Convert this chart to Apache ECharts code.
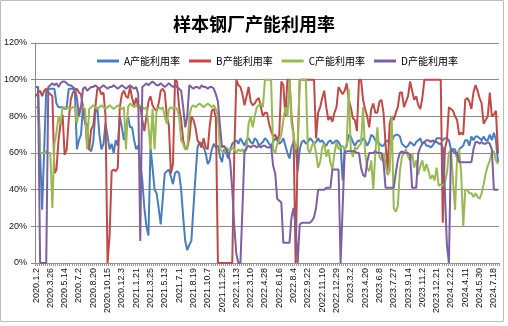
<!DOCTYPE html>
<html><head><meta charset="utf-8">
<script src="https://cdn.jsdelivr.net/npm/echarts@6/dist/echarts.min.js"></script>
<style>html,body{margin:0;padding:0;background:#fff}#c{width:508px;height:326px}</style>
</head><body><div id="c"></div><script>
const title = '样本钢厂产能利用率';
const seriesNames = ['A产能利用率','B产能利用率','C产能利用率','D产能利用率'];
const tickLabels = ['2020.1.2','2020.3.26','2020.5.14','2020.7.2','2020.8.20','2020.10.15','2020.12.3','2021.1.21','2021.3.25','2021.5.13','2021.7.1','2021.8.19','2021.10.7','2021.11.25','2022.1.13','2022.3.10','2022.4.28','2022.6.16','2022.8.4','2022.9.22','2022.11.10','2022.12.29','2023.3.2','2023.4.20','2023.6.8','2023.7.27','2023.9.14','2023.11.2','2023.12.21','2024.2.22','2024.4.11','2024.5.30','2024.7.18'];
const yTicks = [0,20,40,60,80,100,120];

const seriesA = [
96,96,60,29,62,94,95,95,95,95,
87,85,85,85,84,85,95,95,95,94,
62,67,70,85,76,76,62,61,66,82,
85,70,62,65,76,69,62,65,60,67,
64,80,74,67,74,80,74,74,67,62,
64,55,45,30,20,15,63,52,40,38,
30,21,35,49,50,51,47,43,49,50,
49,40,25,12,7,10,12,30,47,63,
66,65,63,60,54,56,62,65,63,64,
58,55,62,60,57,62,65,66,67,65,
68,66,64,67,68,66,65,68,67,64,
65,66,68,67,65,64,66,68,67,65,
66,68,64,60,57,63,66,64,50,62,
66,67,65,66,68,67,65,66,68,66,
67,65,64,66,67,65,66,67,66,64,
45,62,64,70,69,66,64,66,67,66,
68,67,64,66,70,69,67,66,65,64,
64,66,67,65,66,69,70,70,69,65,
64,63,64,66,65,64,66,67,68,65,
66,64,64,63,64,66,68,68,68,67,
68,68,67,62,62,62,57,62,63,64,
67,67,64,69,67,69,69,68,67,69,
67,67,70,67,71,67,55];

const seriesB = [
91,93,94,91,94,95,93,92,91,49,
51,67,76,81,59,62,78,89,93,94,
95,93,92,85,80,64,62,73,75,85,
95,95,92,93,80,0,15,50,51,50,
52,85,92,94,91,90,96,90,86,90,
85,85,78,72,80,88,91,86,84,83,
87,94,95,93,80,75,49,54,100,99,
85,78,67,62,63,68,80,78,74,67,
65,63,68,63,62,75,83,84,79,0,
0,0,0,0,0,0,0,60,100,97,
96,92,86,91,96,88,86,87,89,90,
85,80,82,82,76,72,69,70,67,70,
99,97,80,100,100,80,70,0,62,100,
100,100,100,100,100,100,100,68,82,85,
90,94,85,78,80,77,82,85,96,94,
92,94,98,89,85,79,78,72,100,100,
89,84,80,74,84,87,82,82,88,89,
82,65,50,76,80,78,82,85,93,93,
85,88,91,99,94,89,91,86,84,90,
100,100,100,100,100,100,100,100,100,22,
62,67,85,84,83,80,78,70,71,70,
89,90,88,84,93,97,94,90,87,76,
78,80,93,80,81,83,60];

const seriesC = [
85,85,60,60,60,61,60,60,30,65,
71,80,76,85,85,84,85,84,85,85,
76,84,85,85,84,62,84,85,86,85,
84,85,86,85,84,85,86,85,84,85,
86,85,84,85,62,85,87,86,85,86,
85,86,85,84,85,75,62,84,62,84,
85,84,85,80,76,84,85,84,85,84,
80,67,65,62,62,80,85,86,85,86,
87,86,85,86,87,86,85,86,84,80,
62,61,60,63,62,61,63,62,60,62,
61,62,60,62,76,80,74,80,85,86,
87,85,100,100,100,100,62,60,65,67,
70,78,85,80,100,76,70,62,65,100,
100,100,100,62,60,64,66,60,52,55,
63,65,58,62,55,51,60,66,62,63,
64,62,65,95,62,58,63,62,64,65,
85,60,52,50,56,40,60,74,58,56,
60,54,48,50,80,30,28,31,50,58,
60,62,58,56,60,52,56,48,53,56,
50,54,50,46,48,45,52,42,43,42,
44,49,60,62,45,29,58,62,49,20,
40,40,38,38,36,38,36,35,38,43,
49,53,56,60,61,56,54];

const seriesD = [
96,96,0,0,0,0,96,97,98,97,
98,96,98,99,99,98,97,97,96,95,
90,80,85,95,96,94,95,96,96,97,
96,95,96,97,96,95,96,96,97,96,
95,96,97,96,95,96,97,96,95,96,
92,12,96,97,98,97,98,99,98,97,
97,98,97,96,97,98,97,96,97,96,
95,94,85,74,80,97,96,95,96,96,
95,97,96,96,95,96,96,95,92,88,
75,63,64,62,60,55,40,20,5,0,
0,30,61,63,64,63,64,64,63,64,
63,64,64,63,63,64,53,49,35,34,
33,11,11,11,11,25,30,20,0,21,
22,22,22,22,22,23,25,30,40,40,
40,40,41,41,41,51,51,51,51,0,
30,60,61,61,61,61,61,60,60,52,
48,47,55,60,60,60,61,60,60,60,
55,41,41,41,41,41,49,56,60,61,
60,60,60,59,41,41,41,60,63,65,
66,67,67,66,67,66,66,65,65,63,
40,10,0,62,61,60,60,55,55,55,
55,55,55,55,62,66,66,65,66,65,
65,66,65,62,40,40,40];

const colors = ['#4A7EBB','#BE4B48','#98B954','#7D60A0'];

// weekly category names: each tick label followed by the weeks until the next labelled one
function fmt(d){return d.getUTCFullYear()+'.'+(d.getUTCMonth()+1)+'.'+d.getUTCDate();}
const categories = [];
tickLabels.forEach(function(t,k){
  categories.push(t);
  const p = t.split('.').map(Number);
  const n = (k === tickLabels.length-1) ? 2 : 6;
  for (let j=1;j<=n;j++) categories.push(fmt(new Date(Date.UTC(p[0],p[1]-1,p[2]+7*j))));
});

const allSeries = [seriesA, seriesB, seriesC, seriesD];
const chart = echarts.init(document.getElementById('c'), null, {renderer:'canvas'});
chart.setOption({
  animation:false,
  backgroundColor:'#fff',
  textStyle:{fontFamily:'"Liberation Sans", Arial, "Noto Sans CJK SC", sans-serif'},
  title:{text:title,left:'center',top:10,textStyle:{fontSize:18,fontWeight:'bold',color:'#000',fontFamily:'"Noto Sans CJK SC", sans-serif'}},
  legend:{
    data:seriesNames,left:97,top:56,padding:0,itemWidth:22,itemHeight:3,itemGap:9,icon:'rect',
    textStyle:{fontSize:10,color:'#000',fontFamily:'"Noto Sans CJK SC", sans-serif'}
  },
  grid:{left:35,right:9,top:43,bottom:63,containLabel:false},
  xAxis:{
    type:'category',data:categories,boundaryGap:true,
    axisLine:{lineStyle:{color:'#888',width:1}},
    axisTick:{show:true,interval:0,length:3,lineStyle:{color:'#999'}},
    axisLabel:{interval:6,rotate:90,fontSize:9,color:'#111',margin:5,fontFamily:'"Liberation Sans", Arial, sans-serif'},
    splitLine:{show:false}
  },
  yAxis:{
    type:'value',min:yTicks[0],max:yTicks[yTicks.length-1],interval:20,
    axisLine:{show:true,lineStyle:{color:'#888'}},
    axisTick:{show:true,length:4,lineStyle:{color:'#888'}},
    axisLabel:{formatter:'{value}%',fontSize:9,color:'#111',margin:8,fontFamily:'"Liberation Sans", Arial, sans-serif'},
    splitLine:{show:true,lineStyle:{color:'#8c8c8c',width:1}}
  },
  series: allSeries.map(function(d,k){
    return {name:seriesNames[k],type:'line',data:d,symbol:'none',smooth:false,
      lineStyle:{width:2,color:colors[k]},itemStyle:{color:colors[k]}};
  }),
  graphic:[{type:'rect',shape:{x:0.5,y:0.5,width:503,height:321},style:{fill:null,stroke:'#bdbdbd',lineWidth:1},silent:true,z:-1}]
});
</script></body></html>
